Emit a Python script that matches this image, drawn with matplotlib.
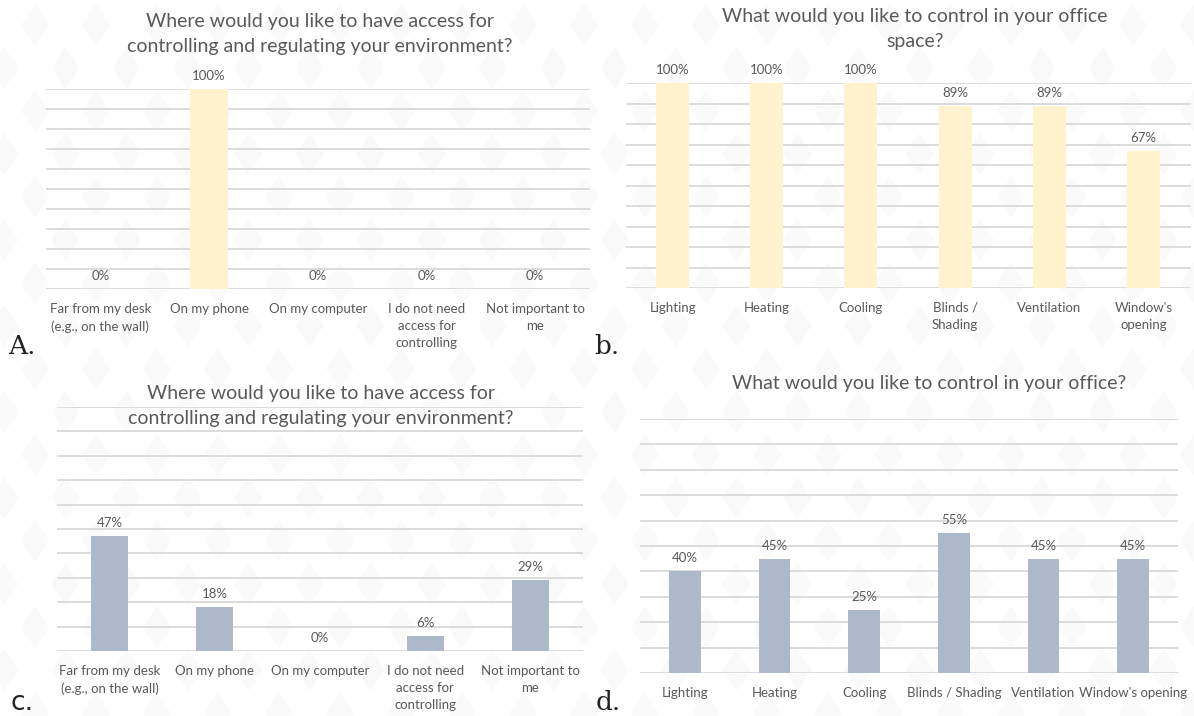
import numpy as np
import matplotlib
matplotlib.use("Agg")
import matplotlib.pyplot as plt
from matplotlib.patches import Polygon

# ---- data ----
access_categories = ["Far from my desk\n(e.g., on the wall)", "On my phone", "On my computer",
                     "I do not need\naccess for\ncontrolling", "Not important to\nme"]
control_categories_wrapped = ["Lighting", "Heating", "Cooling", "Blinds /\nShading",
                              "Ventilation", "Window's\nopening"]
control_categories = ["Lighting", "Heating", "Cooling", "Blinds / Shading",
                      "Ventilation", "Window's opening"]

access_a = [0, 100, 0, 0, 0]
control_b = [100, 100, 100, 89, 89, 67]
access_c = [47, 18, 0, 6, 29]
control_d = [40, 45, 25, 55, 45, 45]

title_access = "Where would you like to have access for\ncontrolling and regulating your environment?"
title_space = "What would you like to control in your office\nspace?"
title_office = "What would you like to control in your office?"

YELLOW = "#FFF2CC"
BLUE_GREY = "#ADB9CA"
GRID = "#D9D9D9"
TEXT = "#595959"
FONT = "Lato"

W, H = 1194, 716
fig = plt.figure(figsize=(W / 100, H / 100), dpi=100)
fig.patch.set_facecolor("white")

# faint diamond wallpaper on a full-figure background axes
bg = fig.add_axes([0, 0, 1, 1], zorder=-10)
bg.set_xlim(0, W)
bg.set_ylim(H, 0)
bg.axis("off")
dx, dy, hw, hh = 61, 43, 14, 21
for row, yc in enumerate(np.arange(25, H + dy, dy)):
    off = 0 if row % 2 == 0 else -dx / 2
    for xc in np.arange(35 + off, W + dx, dx):
        pts = [(xc - hw, yc), (xc, yc - hh), (xc + hw, yc), (xc, yc + hh)]
        bg.add_patch(Polygon(pts, closed=True, facecolor="#FAFAFA", edgecolor="none"))


def px_axes(x0, y0, x1, y1):
    ax = fig.add_axes([x0 / W, 1 - y1 / H, (x1 - x0) / W, (y1 - y0) / H], zorder=1)
    ax.patch.set_alpha(0)
    return ax


def bar_panel(ax, cats, vals, color):
    n = len(cats)
    ax.set_xlim(-0.5, n - 0.5)
    ax.set_ylim(0, 100)
    for g in range(0, 101, 10):
        ax.axhline(g, color=GRID, lw=1.3, zorder=1)
    ax.bar(np.arange(n), vals, width=0.35, color=color, zorder=2)
    for i, v in enumerate(vals):
        ax.annotate(f"{v}%", (i, v), xytext=(0, 5), textcoords="offset points",
                    ha="center", va="bottom", fontsize=9.5, color=TEXT, family=FONT)
    ax.set_xticks(np.arange(n))
    ax.set_xticklabels(cats, fontsize=9.5, color=TEXT, family=FONT, linespacing=1.5)
    ax.tick_params(axis="x", length=0, pad=10)
    ax.set_yticks([])
    for s in ax.spines.values():
        s.set_visible(False)


axA = px_axes(46, 89, 589.5, 289)
bar_panel(axA, access_categories, access_a, YELLOW)
axB = px_axes(625.5, 83, 1190.5, 288)
bar_panel(axB, control_categories_wrapped, control_b, YELLOW)
axC = px_axes(57, 407, 583, 651)
bar_panel(axC, access_categories, access_c, BLUE_GREY)
axD = px_axes(640, 419, 1178, 673)
bar_panel(axD, control_categories, control_d, BLUE_GREY)


def title(x, y, s):
    fig.text(x / W, 1 - y / H, s, ha="center", va="center", fontsize=14,
             color=TEXT, family=FONT, linespacing=1.55)


title(320, 34, title_access)
title(915, 29, title_space)
title(321, 406, title_access)
title(929, 383, title_office)


def letter(x, y, s, fam):
    fig.text(x / W, 1 - y / H, s, ha="left", va="baseline", fontsize=19,
             color="#222222", family=fam)


letter(8, 354, "A.", "DejaVu Serif")
letter(594, 354, "b.", "DejaVu Serif")
letter(10, 710, "c.", "DejaVu Sans")
letter(596, 710, "d.", "DejaVu Serif")

fig.savefig("out.png", dpi=100)
